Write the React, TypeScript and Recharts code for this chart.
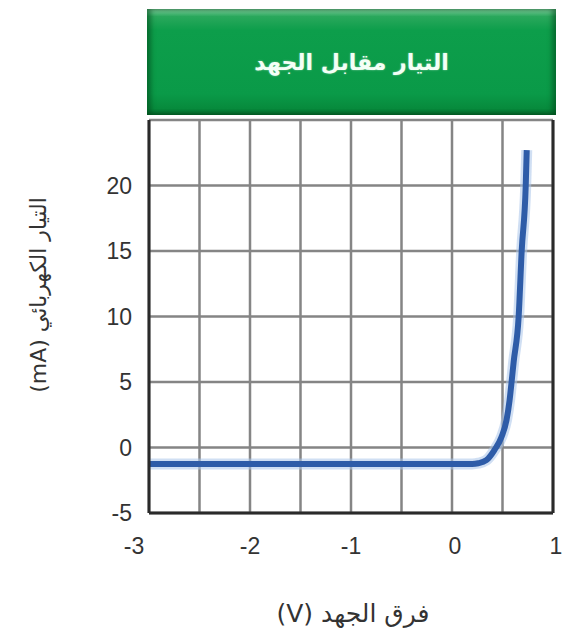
import React from 'react';
import { LineChart, Line, XAxis, YAxis, CartesianGrid, ReferenceLine } from 'recharts';

const voltage = [-3, -2, -1, 0, 0.2, 0.26, 0.34, 0.42, 0.49, 0.54, 0.57, 0.59, 0.61, 0.66, 0.69, 0.73, 0.74];
const current = [-1.25, -1.25, -1.25, -1.25, -1.25, -1.2, -0.97, -0.2, 0.8, 2.1, 3.6, 5, 6.5, 10, 15, 20, 22.7];
const xTicks = [-3, -2.5, -2, -1.5, -1, -0.5, 0, 0.5, 1];
const yTicks = [-5, 0, 5, 10, 15, 20];

const title = 'التيار مقابل الجهد';
const xTitle = 'فرق الجهد (V)';
const yTitle = 'التيار الكهربائي (mA)';

const data = voltage.map((v, i) => ({ v, i: current[i] }));

const tickFont = { fontFamily: '"Liberation Sans", Arial, sans-serif', fontSize: 23, fill: '#333' };

const XTick = (props: any) => {
  const { x, y, payload } = props;
  const val = payload.value;
  if (!Number.isInteger(val)) return null;
  const dx = val === -3 ? -15 : val === 1 ? 3 : val === 0 ? 3 : 0;
  return (
    <text x={x + dx} y={y} dy="0.71em" textAnchor="middle" {...tickFont}>
      {String(val)}
    </text>
  );
};

export default function App() {
  return (
    <div style={{ position: 'absolute', left: 0, top: 0, width: 571, height: 636, background: '#fff' }}>
      <LineChart
        width={571}
        height={636}
        data={data}
        margin={{ top: 120, right: 18, bottom: 93, left: 89 }}
      >
        <CartesianGrid stroke="#858585" strokeWidth={2.5} />
        <XAxis
          type="number"
          dataKey="v"
          domain={[-3, 1]}
          ticks={xTicks}
          tick={<XTick />}
          tickLine={false}
          tickSize={0}
          tickMargin={25}
          height={30}
          axisLine={{ stroke: '#2a2a2a', strokeWidth: 3 }}
          interval={0}
        />
        <YAxis
          type="number"
          domain={[-5, 25]}
          ticks={yTicks}
          tick={tickFont}
          tickLine={false}
          tickSize={0}
          tickMargin={17}
          width={60}
          axisLine={{ stroke: '#2a2a2a', strokeWidth: 3 }}
          interval={0}
        />
        <ReferenceLine x={1} stroke="#2a2a2a" strokeWidth={3} />
        <Line
          type="monotone"
          dataKey="i"
          stroke="#a9c4ea"
          strokeWidth={11}
          strokeOpacity={0.55}
          dot={false}
          isAnimationActive={false}
          strokeLinecap="butt"
        />
        <Line
          type="monotone"
          dataKey="i"
          stroke="#2e5ca8"
          strokeWidth={6}
          dot={false}
          isAnimationActive={false}
          strokeLinecap="butt"
        />
      </LineChart>
      <div
        style={{
          position: 'absolute',
          left: 147,
          top: 9,
          width: 409,
          height: 106,
          background: 'linear-gradient(to bottom, #86d3a4 0%, #2aa85c 7%, #0d9e4b 20%, #0a9a48 80%, #078a3c 94%, #056a2c 100%)',
          boxShadow: 'inset 4px 0 5px rgba(0,70,25,0.55), inset -4px 0 5px rgba(0,70,25,0.55)',
          display: 'flex',
          alignItems: 'center',
          justifyContent: 'center',
        }}
      >
        <span
          dir="rtl"
          style={{
            color: '#f4fff6',
            fontFamily: '"DejaVu Sans", sans-serif',
            fontWeight: 'bold',
            fontSize: 22,
            textShadow: '0 0 2px rgba(255,255,255,0.5)',
          }}
        >
          {title}
        </span>
      </div>
      <div
        dir="rtl"
        style={{
          position: 'absolute',
          left: 353,
          top: 613,
          transform: 'translate(-50%, -50%)',
          whiteSpace: 'nowrap',
          fontFamily: '"DejaVu Sans", sans-serif',
          fontSize: 25,
          color: '#333',
        }}
      >
        {xTitle}
      </div>
      <div
        dir="rtl"
        style={{
          position: 'absolute',
          left: 38,
          top: 295,
          transform: 'translate(-50%, -50%) rotate(-90deg)',
          whiteSpace: 'nowrap',
          fontFamily: '"DejaVu Sans", sans-serif',
          fontSize: 22,
          color: '#333',
        }}
      >
        {yTitle}
      </div>
    </div>
  );
}
